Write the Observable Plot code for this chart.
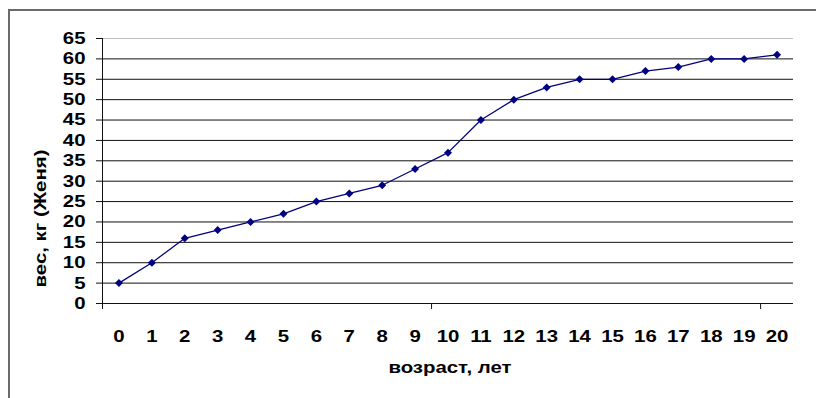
<!DOCTYPE html>
<html><head><meta charset="utf-8">
<script src="https://cdn.jsdelivr.net/npm/d3@7"></script>
<script src="https://cdn.jsdelivr.net/npm/@observablehq/plot@0.6"></script>
<style>
html,body{margin:0;padding:0;background:#fff;overflow:hidden;}
#wrap{position:relative;width:816px;height:398px;overflow:hidden;background:#fff;}
#vline{position:absolute;left:8px;top:9px;width:1.5px;height:389px;background:#6a6a6a;}
#hline{position:absolute;left:8px;top:9px;width:808px;height:1.5px;background:#6a6a6a;}
#wrap svg{position:absolute;left:0;top:0;}
</style></head><body><div id="wrap"><div id="vline"></div><div id="hline"></div></div>
<script>
const ages = [0,1,2,3,4,5,6,7,8,9,10,11,12,13,14,15,16,17,18,19,20];
const weights = [5,10,16,18,20,22,25,27,29,33,37,45,50,53,55,55,57,58,60,60,61];
const yTicks = [0,5,10,15,20,25,30,35,40,45,50,55,60,65];
const xBoundaryTicks = [-0.5,9.5,19.5];
const xTitle = "возраст, лет";
const yTitle = "вес, кг (Женя)";

const data = ages.map((a,i)=>({age:a, weight:weights[i]}));
const ink = "#000080";

const chart = Plot.plot({
  width:816, height:398,
  marginLeft:102, marginRight:23, marginTop:38, marginBottom:95,
  style:{fontFamily:"'Liberation Sans', Arial, sans-serif", fontWeight:"bold", fontSize:"17px", color:"#000", background:"transparent"},
  x:{domain:[-0.5,20.5], label:null},
  y:{domain:[0,65], label:null},
  marks:[
    Plot.ruleY(yTicks.filter(v=>v>0 && v<65), {y:d=>d, stroke:"#111"}),
    Plot.ruleY(yTicks.filter(v=>v===65), {y:d=>d, stroke:"#c0c0c0"}),
    Plot.ruleY(yTicks.filter(v=>v===0), {y:d=>d, stroke:"#111"}),
    Plot.ruleX(xBoundaryTicks.slice(0,1), {x:d=>d, stroke:"#111"}),
    Plot.axisY({ticks:yTicks, tickSize:6, tickPadding:11, label:null, stroke:"#111"}),
    Plot.axisX({ticks:xBoundaryTicks, tickSize:6, tickFormat:()=>"", label:null, stroke:"#111"}),
    Plot.axisX({ticks:ages, tickSize:0, tickPadding:26, tickFormat:d=>String(d), label:null}),
    Plot.line(data, {x:"age", y:"weight", stroke:ink, strokeWidth:1.25}),
    Plot.dot(data, {x:"age", y:"weight", symbol:"diamond2", r:3.6, fill:ink, stroke:"none"}),
    Plot.text([xTitle], {frameAnchor:"bottom", text:d=>d, dx:2, dy:64, lineAnchor:"middle", textAnchor:"middle"}),
    Plot.text([yTitle], {frameAnchor:"left", text:d=>d, dx:-62, dy:47.5, rotate:-90, lineAnchor:"middle", textAnchor:"middle"})
  ]
});
document.getElementById("wrap").appendChild(chart);

// widen glyphs along the text direction, as in the original rendering
const S = 1.2;
chart.querySelectorAll("text").forEach(t => {
  const b = t.getBBox();
  if (!b.width) return;
  const anchor = getComputedStyle(t).textAnchor;
  const cx = anchor === "end" ? b.x + b.width : anchor === "start" ? b.x : b.x + b.width/2;
  const cy = b.y + b.height/2;
  const T = t.getAttribute("transform") || "";
  t.setAttribute("transform", `${T} translate(${cx},${cy}) scale(${S},1) translate(${-cx},${-cy})`);
});
</script></body></html>
